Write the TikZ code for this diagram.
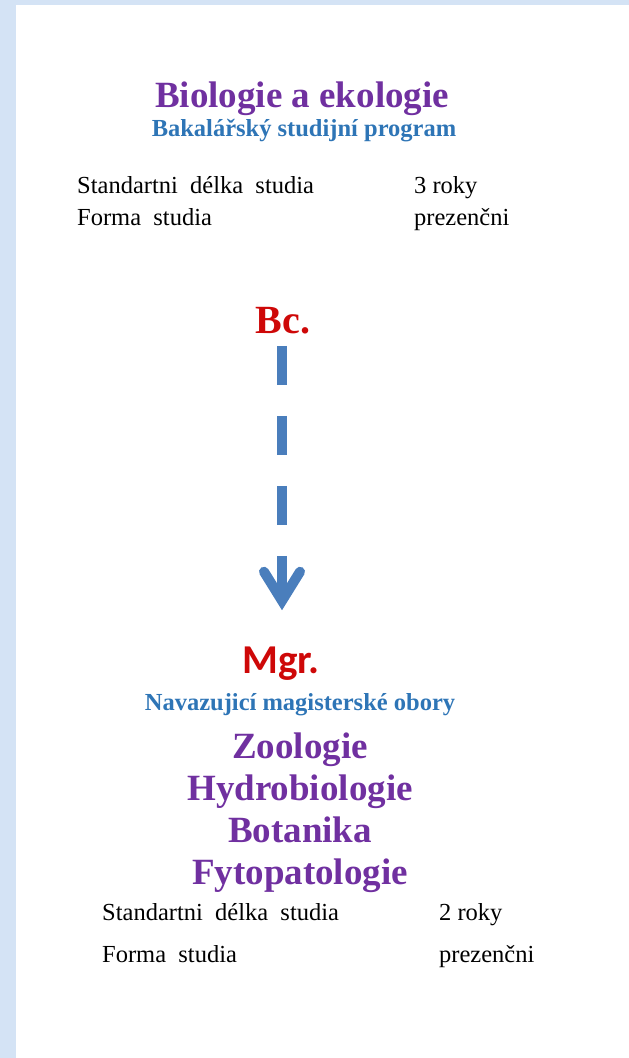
\documentclass[tikz,border=0pt]{standalone}
\usepackage{fontspec}
\setmainfont{Liberation Serif}
\newfontfamily\mgrfont{Carlito}
\usepackage{xcolor}
\definecolor{stpurple}{RGB}{112, 48, 160}
\definecolor{stblue}{RGB}{46, 117, 182}
\definecolor{stred}{RGB}{206, 8, 8}
\definecolor{starrow}{RGB}{74, 126, 188}
\definecolor{stframe}{RGB}{212, 227, 245}
\usetikzlibrary{arrows.meta}

\begin{document}
\begin{tikzpicture}[x=1pt, y=-1pt,
    every node/.style={inner sep=0pt},
    obor/.style={anchor=base, font=\bfseries\fontsize{37}{44}\selectfont, text=stpurple},
    podnadpis/.style={anchor=base, font=\bfseries\fontsize{24.5}{28}\selectfont, text=stblue},
    udaj/.style={anchor=base west, font=\fontsize{24.5}{28}\selectfont},
    titul/.style={anchor=base, text=stred}]

% === Pozadi ===
\useasboundingbox (0, 0) rectangle (629, 1058);
\fill[stframe] (0, 0) rectangle (16, 1058);
\fill[stframe] (0, 0) rectangle (629, 5);

% === Bakalarske studium ===
\node[obor] (nazev) at (302, 107) {Biologie a ekologie};
\node[podnadpis] (bakalar) at (304, 136) {Bakalářský studijní program};

\node[udaj] (bdelka) at (77, 193) {Standartni\ \ délka\ \ studia};
\node[udaj] (bforma) at (77, 225) {Forma\ \ studia};
\node[udaj] (broky) at (414, 193) {3 roky};
\node[udaj] (bprez) at (414, 225) {prezenčni};

% === Prechod Bc. -> Mgr. ===
\node[titul, font=\bfseries\fontsize{40}{48}\selectfont] (bc) at (283, 333) {Bc.};
\node[titul, font=\mgrfont\bfseries\fontsize{41}{48}\selectfont] (mgr) at (281, 673) {Mgr.};

\draw[starrow, line width=10pt, dash pattern=on 39pt off 31pt,
    shorten <=12pt, shorten >=36pt,
    -{Straight Barb[length=29pt, width=36pt, line cap=round, line join=miter]}]
    (bc.south -| 282, 0) -- (mgr.north -| 282, 0);

% === Navazujici magisterske obory ===
\node[podnadpis] (navaz) at (300, 710) {Navazujicí magisterské obory};
\node[obor] (zoo) at (300, 758) {Zoologie};
\node[obor] (hydro) at (300, 800) {Hydrobiologie};
\node[obor] (bot) at (300, 842) {Botanika};
\node[obor] (fyto) at (300, 884) {Fytopatologie};

\node[udaj] (mdelka) at (102, 920) {Standartni\ \ délka\ \ studia};
\node[udaj] (mforma) at (102, 962) {Forma\ \ studia};
\node[udaj] (mroky) at (439, 920) {2 roky};
\node[udaj] (mprez) at (439, 962) {prezenčni};

\end{tikzpicture}
\end{document}
